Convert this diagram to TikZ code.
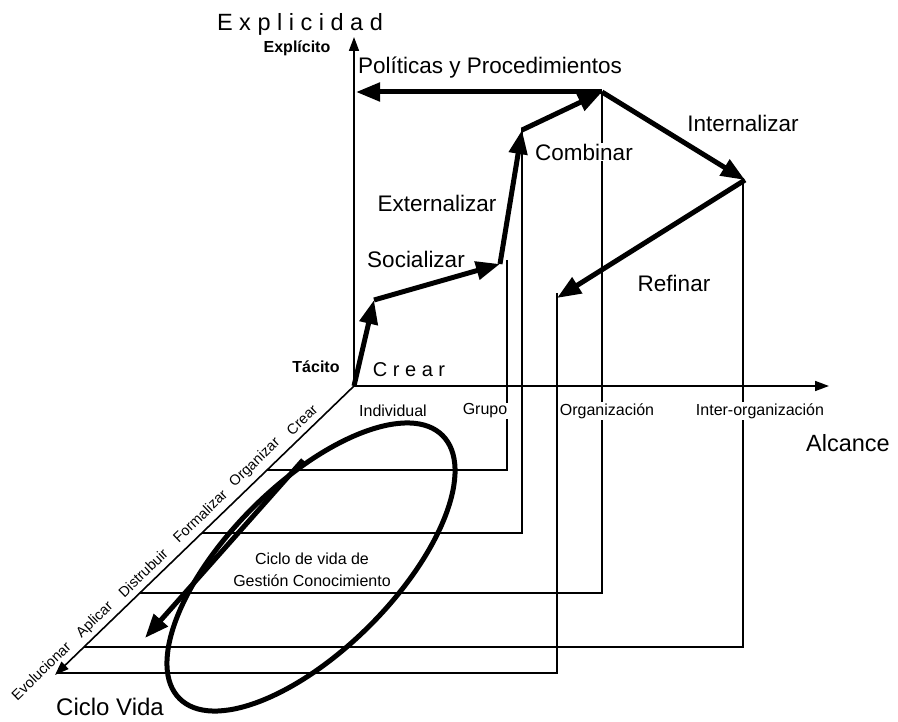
\documentclass[tikz,border=0pt]{standalone}
\usepackage{fontspec}
\setmainfont{Liberation Sans}
\usetikzlibrary{arrows.meta}
\begin{document}
\begin{tikzpicture}[x=1pt,y=-1pt,
  axis/.style={line width=1.6pt,-{Triangle[length=14pt,width=10pt]}},
  guide/.style={line width=1.3pt,line join=miter},
  flow/.style={line width=5pt,-{Triangle[length=24pt,width=18pt]}},
  ring/.style={line width=5pt},
  big/.style={font=\fontsize{22.5}{27}\selectfont,inner sep=1pt},
  axlabel/.style={font=\fontsize{16}{19}\selectfont,fill=white,inner sep=1pt},
  boldlabel/.style={font=\bfseries\fontsize{16}{19}\selectfont,inner sep=1pt},
  phase/.style={font=\fontsize{14.5}{17}\selectfont,rotate=44,inner sep=0.5pt},
  title/.style={font=\fontsize{23.5}{28}\selectfont,inner sep=1pt}
]
% canvas
\fill[white] (0,0) rectangle (898,722);
\useasboundingbox (0,0) rectangle (898,722);

% axes
\coordinate (O) at (354,386);
\coordinate (Ytip) at (354,37);
\coordinate (Xtip) at (829,386);
\coordinate (Ztip) at (55,675);

% guide lines: drop from each stage down, then across to the life-cycle axis
\coordinate (T1) at (507,260);  \coordinate (B1) at (507,470); \coordinate (A1) at (267.1,470);
\coordinate (T2) at (522,128);  \coordinate (B2) at (522,533); \coordinate (A2) at (201.9,533);
\coordinate (T3) at (602,92);   \coordinate (B3) at (602,593); \coordinate (A3) at (139.8,593);
\coordinate (T4) at (743,180);  \coordinate (B4) at (743,647); \coordinate (A4) at (84.0,647);
\coordinate (T5) at (557,293);  \coordinate (B5) at (557,673); \coordinate (A5) at (57.1,673);
\draw[guide] (T1) -- (B1) -- (A1);
\draw[guide] (T2) -- (B2) -- (A2);
\draw[guide] (T3) -- (B3) -- (A3);
\draw[guide] (T4) -- (B4) -- (A4);
\draw[guide] (T5) -- (B5) -- (A5);

\draw[axis] (O) -- (Ytip);
\draw[axis] (O) -- (Xtip);
\draw[axis] (O) -- (Ztip);

% knowledge life cycle loop
\coordinate (E) at (311,567);
\draw[ring,rotate around={45:(E)}] (E) ellipse [x radius=186pt,y radius=83pt];

% knowledge conversion path
\coordinate (P1) at (374,300);
\coordinate (P2) at (500,264);
\coordinate (P3) at (522,130);
\coordinate (P4) at (602,92);
\coordinate (P5) at (356,92);
\coordinate (P6) at (745,180);
\coordinate (P7) at (557,298);
\draw[flow] (O) -- (P1);
\draw[flow] (P1) -- (P2);
\draw[flow] (P2) -- (P3);
\draw[flow] (P3) -- (P4);
\draw[flow] (P4) -- (P5);
\draw[flow] (P4) -- (P6);
\draw[flow] (P6) -- (P7);

\coordinate (C1) at (303,460);
\coordinate (C2) at (145,638);
\draw[flow] (C1) -- (C2);

% axis titles
\node[title] (explicidad) at (300,24) {E x p l i c i d a d};
\node[boldlabel] (explicito) at (297,48) {Explícito};
\node[boldlabel] (tacito) at (316,367) {Tácito};
\node[title] (alcance) at (848,443) {Alcance};
\node[font=\fontsize{24}{28}\selectfont,inner sep=1pt] (ciclovida) at (110,707) {Ciclo Vida};

% conversion labels
\node[big] (politicas) at (490,68) {Políticas y Procedimientos};
\node[big] (internalizar) at (743,123) {Internalizar};
\node[big,fill=white] (combinar) at (584,152) {Combinar};
\node[big] (externalizar) at (437,203) {Externalizar};
\node[big] (socializar) at (416,259) {Socializar};
\node[big] (refinar) at (674,283) {Refinar};
\node[font=\fontsize{20}{24}\selectfont,inner sep=1pt] (crear) at (409,370) {C r e a r};

% scope labels
\node[axlabel] (individual) at (393,411) {Individual};
\node[axlabel] (grupo) at (485,411) {Grupo};
\node[axlabel] (organizacion) at (607,411) {Organización};
\node[axlabel] (interorg) at (760,411) {Inter-organización};

% life-cycle phases, set just above the diagonal axis
\node[phase] (ph1) at (302,420) {Crear};
\node[phase] (ph2) at (255,463) {Organizar};
\node[phase] (ph3) at (200,516) {Formalizar};
\node[phase] (ph4) at (143,573) {Distrubuir};
\node[phase] (ph5) at (95,620) {Aplicar};
\node[phase] (ph6) at (41,671) {Evolucionar};

\node[font=\fontsize{16}{22}\selectfont,align=center,inner sep=1pt] (gc) at (312,570)
  {Ciclo de vida de\\Gestión Conocimiento};
\end{tikzpicture}
\end{document}
